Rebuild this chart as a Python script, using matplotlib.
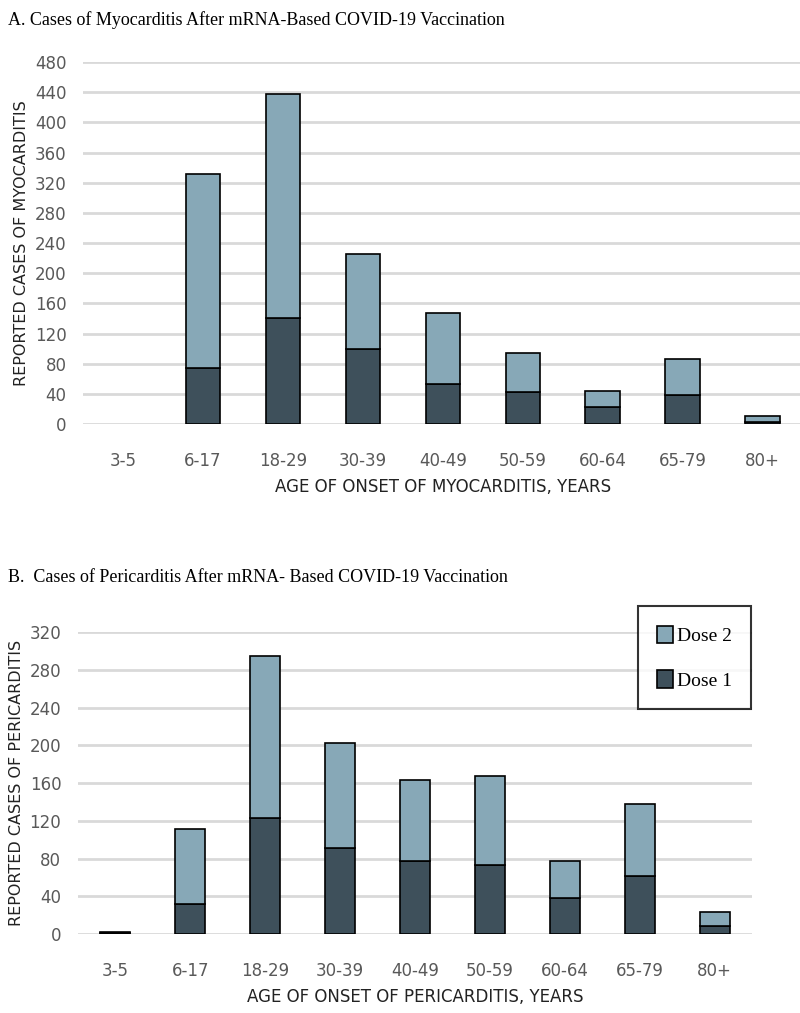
import matplotlib.pyplot as plt
import numpy as np

ages = ["3-5", "6-17", "18-29", "30-39", "40-49", "50-59", "60-64", "65-79", "80+"]

# myocarditis (panel A)
myo_total = [0, 332, 438, 225, 147, 94, 44, 86, 10]
myo_dose1 = [0, 74, 141, 100, 53, 43, 23, 39, 3]

# pericarditis (panel B)
peri_total = [2, 111, 295, 202, 163, 167, 77, 138, 23]
peri_dose1 = [1, 32, 123, 91, 77, 73, 38, 61, 8]

light = "#87a8b7"
dark = "#3e505b"
grid_c = "#d9d9d9"
tick_c = "#595959"

fig = plt.figure(figsize=(8, 10.13), dpi=100)


def panel(rect, total, dose1, ymax, ystep, width, ylabel, xlabel):
    ax = fig.add_axes(rect)
    x = np.arange(len(ages))
    d1 = np.array(dose1)
    d2 = np.array(total) - d1
    lw1 = [1.2 if v > 0 else 0 for v in d1]
    lw2 = [1.2 if v > 0 else 0 for v in d2]
    ax.bar(x, d1, width, color=dark, edgecolor="black", linewidth=lw1, label="Dose 1", zorder=3)
    ax.bar(x, d2, width, bottom=d1, color=light, edgecolor="black", linewidth=lw2,
           label="Dose 2", zorder=3)
    ax.set_xlim(-0.5, len(ages) - 0.5)
    ax.set_ylim(0, ymax)
    ax.set_yticks(np.arange(0, ymax + 1, ystep))
    ax.set_xticks(x)
    ax.set_xticklabels(ages)
    ax.yaxis.grid(True, color=grid_c, linewidth=2)
    ax.set_axisbelow(True)
    for s in ax.spines.values():
        s.set_visible(False)
    ax.tick_params(axis="both", length=0, labelcolor=tick_c, labelsize=12)
    ax.tick_params(axis="x", pad=20)
    ax.tick_params(axis="y", pad=12)
    ax.set_ylabel(ylabel, fontsize=11.5, color="#222222", labelpad=4)
    ax.set_xlabel(xlabel, fontsize=12, color="#222222", labelpad=6)
    return ax


ax_a = panel([0.104, 0.5814, 0.899, 0.3574], myo_total, myo_dose1, 480, 40, 0.43,
             "REPORTED CASES OF MYOCARDITIS", "AGE OF ONSET OF MYOCARDITIS, YEARS")
ax_b = panel([0.0975, 0.078, 0.8425, 0.298], peri_total, peri_dose1, 320, 40, 0.40,
             "REPORTED CASES OF PERICARDITIS", "AGE OF ONSET OF PERICARDITIS, YEARS")

fig.text(0.01, 1 - 20 / 1013, "A. Cases of Myocarditis After mRNA-Based COVID-19 Vaccination",
         family="Liberation Serif", fontsize=13, va="center")
fig.text(0.01, 1 - 578 / 1013, "B.  Cases of Pericarditis After mRNA- Based COVID-19 Vaccination",
         family="Liberation Serif", fontsize=13, va="center")

h, l = ax_b.get_legend_handles_labels()
leg = fig.legend(h[::-1], l[::-1], loc="upper left", bbox_to_anchor=(0.785, 0.411),
                 frameon=True, fancybox=False, edgecolor="black", handlelength=0.8,
                 handleheight=1.0, handletextpad=0.2, labelspacing=1.3, borderpad=1.0,
                 prop={"family": "Liberation Serif", "size": 14})
leg.get_frame().set_linewidth(1.5)

fig.savefig("out.png", dpi=100)
